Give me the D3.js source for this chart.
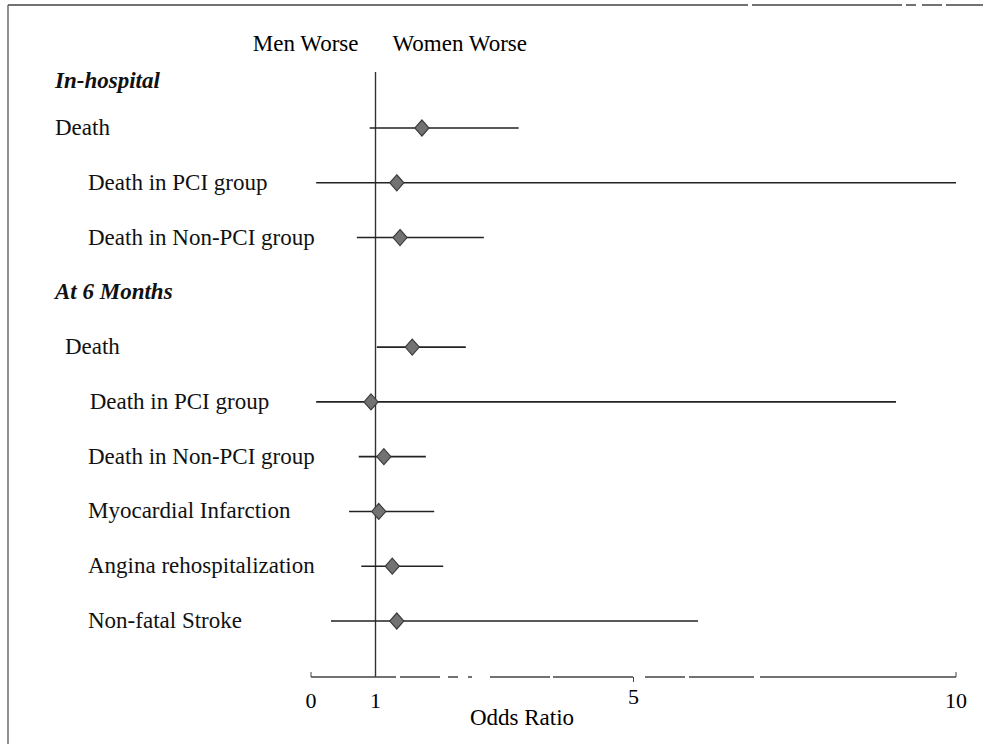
<!DOCTYPE html>
<html>
<head>
<meta charset="utf-8">
<script src="https://cdn.jsdelivr.net/npm/d3@7"></script>
<style>
  body { margin: 0; background: #fff; }
  svg { display: block; font-family: "Liberation Serif", "Times New Roman", serif; }
</style>
</head>
<body>
<svg id="chart" width="983" height="744"></svg>
<script>
// Rows of the forest plot, top to bottom
const labels = [
  "In-hospital", "Death", "Death in PCI group", "Death in Non-PCI group",
  "At 6 Months", "Death", "Death in PCI group", "Death in Non-PCI group",
  "Myocardial Infarction", "Angina rehospitalization", "Non-fatal Stroke"
];
const isHeader = [true, false, false, false, true, false, false, false, false, false, false];
const indent = [0, 0, 1, 1, 0, 0.3, 1.05, 1, 1, 1, 1];
// odds ratio with 95% CI (null for header rows)
const oddsRatio = [null, 1.72, 1.33, 1.38, null, 1.57, 0.93, 1.13, 1.05, 1.26, 1.33];
const ciLow = [null, 0.91, 0.08, 0.71, null, 1.02, 0.08, 0.74, 0.59, 0.78, 0.31];
const ciHigh = [null, 3.22, 10.0, 2.68, null, 2.40, 9.07, 1.78, 1.91, 2.05, 6.0];
const tickValues = [0, 1, 5, 10];

const svg = d3.select('#chart');

const x = d3.scaleLinear().domain([0, 10]).range([311, 956]);
const y = d3.scaleLinear().domain([1, labels.length - 1]).range([128, 621]);
const axisY = 677;

// Frame (top and left edges of the scanned box)
svg.append('line')
  .attr('x1', 8).attr('y1', 5).attr('x2', 983).attr('y2', 5)
  .attr('stroke', '#444').attr('stroke-width', 1.5)
  .attr('stroke-dasharray', '740,4,150,4,10,6,20,4,60');
svg.append('line')
  .attr('x1', 8).attr('y1', 5).attr('x2', 8).attr('y2', 744)
  .attr('stroke', '#555').attr('stroke-width', 1.3);

// Men / Women worse
svg.append('text').attr('x', x(1) - 17).attr('y', 51)
  .attr('text-anchor', 'end').attr('font-size', 23).text('Men Worse');
svg.append('text').attr('x', x(1) + 17).attr('y', 51)
  .attr('text-anchor', 'start').attr('font-size', 23).text('Women Worse');

// Reference line at OR = 1
svg.append('line')
  .attr('x1', x(1)).attr('x2', x(1))
  .attr('y1', 72).attr('y2', axisY)
  .attr('stroke', '#333').attr('stroke-width', 1.4);

// Row labels
svg.append('g').selectAll('text')
  .data(labels)
  .join('text')
  .attr('x', (d, i) => 55 + indent[i] * 33)
  .attr('y', (d, i) => (i === 0 ? 81 : y(i)) + 7)
  .attr('font-size', 23)
  .attr('font-weight', (d, i) => isHeader[i] ? 'bold' : 'normal')
  .attr('font-style', (d, i) => isHeader[i] ? 'italic' : 'normal')
  .attr('fill', '#111')
  .text(d => d);

const rows = labels.map((d, i) => ({ i, or: oddsRatio[i], lo: ciLow[i], hi: ciHigh[i] }))
  .filter(d => d.or !== null);

// Confidence intervals
svg.append('g').selectAll('line')
  .data(rows)
  .join('line')
  .attr('x1', d => x(d.lo))
  .attr('x2', d => x(d.hi))
  .attr('y1', d => y(d.i))
  .attr('y2', d => y(d.i))
  .attr('stroke', '#222')
  .attr('stroke-width', 1.6);

// Point estimates as diamonds (slightly taller than wide)
svg.append('g').selectAll('path')
  .data(rows)
  .join('path')
  .attr('transform', d => `translate(${x(d.or)},${y(d.i)}) scale(0.88,1)`)
  .attr('d', d3.symbol().type(d3.symbolDiamond2).size(165))
  .attr('fill', '#727272')
  .attr('stroke', '#3a3a3a')
  .attr('stroke-width', 1.2);

// X axis
const axis = svg.append('g').attr('transform', `translate(0,${axisY})`);
axis.append('line')
  .attr('x1', x(0)).attr('x2', x(10))
  .attr('stroke', '#444').attr('stroke-width', 1.5)
  .attr('stroke-dasharray', '85,4,40,8,10,10,4,18,60,3,80,12,40,4,65,6,200');
axis.selectAll('.tick')
  .data([0, 5, 10])
  .join('line')
  .attr('x1', d => x(d)).attr('x2', d => x(d))
  .attr('y1', d => d === 5 ? 0 : -5).attr('y2', d => d === 5 ? 5 : 0)
  .attr('stroke', '#444');
axis.selectAll('text')
  .data(tickValues)
  .join('text')
  .attr('x', d => x(d))
  .attr('y', d => d === 5 ? 27 : 31)
  .attr('text-anchor', 'middle')
  .attr('font-size', 22)
  .text(d => d);

svg.append('text')
  .attr('x', 522).attr('y', 725)
  .attr('text-anchor', 'middle')
  .attr('font-size', 23)
  .text('Odds Ratio');
</script>
</body>
</html>
